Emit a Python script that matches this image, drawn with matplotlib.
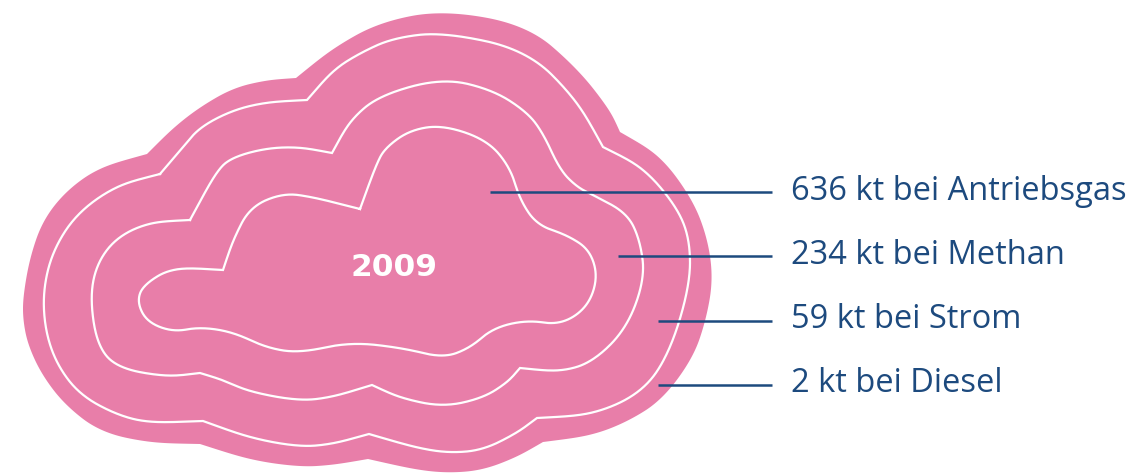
import matplotlib
matplotlib.use("Agg")
import matplotlib.pyplot as plt
import numpy as np

YEAR = "2009"
VALUES = [636, 234, 59, 2]
UNIT = "kt"
FUELS = ["Antriebsgas", "Methan", "Strom", "Diesel"]

PINK = "#E87EA9"
NAVY = "#1D4A7E"

# leader lines: start inside each ring, all end at the same x
LEADER_X0 = [490, 618, 658, 658]
LEADER_Y = [192, 256, 321, 385]
LEADER_X1 = 772
TEXT_X = 791

# cloud outlines in pixel coords, split at the sharp notches
OUTER = [
    [(147, 154), (173, 128), (200, 107), (233, 88), (267, 80), (296, 78)],
    [(296, 78), (333, 48), (380, 22), (443, 10), (527, 25), (577, 68), (610, 110), (620, 132)],
    [(620, 132), (660, 155), (693, 200), (708, 240), (713, 280), (706, 320), (693, 358),
     (662, 400), (627, 422), (590, 436), (543, 442)],
    [(543, 442), (517, 457), (483, 470), (450, 473), (417, 470), (368, 459)],
    [(368, 459), (333, 465), (300, 467), (250, 460), (200, 444)],
    [(200, 444), (150, 443), (100, 432), (65, 405), (42, 375), (28, 345), (23, 320),
     (23, 297), (30, 257), (43, 220), (67, 190), (100, 167), (147, 154)],
]
RING1 = [
    [(160, 174), (183, 147), (200, 127), (233, 110), (267, 102), (307, 100)],
    [(307, 100), (333, 70), (360, 53), (393, 38), (443, 32), (527, 50), (577, 100), (603, 147)],
    [(603, 147), (643, 167), (677, 207), (690, 240), (690, 285), (670, 352), (643, 392),
     (593, 415), (537, 418)],
    [(537, 418), (517, 433), (483, 450), (450, 453), (417, 448), (369, 434)],
    [(369, 434), (333, 444), (300, 447), (250, 438), (203, 421)],
    [(203, 421), (150, 423), (117, 415), (80, 395), (57, 365), (45, 330), (43, 290),
     (53, 250), (77, 213), (117, 185), (160, 174)],
]
RING2 = [
    [(190, 220), (217, 170), (233, 157), (267, 148), (300, 147), (332, 153)],
    [(332, 153), (350, 120), (380, 95), (443, 78), (493, 90), (527, 112), (543, 133),
     (560, 170), (577, 187), (593, 195), (627, 213), (640, 240), (645, 278), (627, 328),
     (593, 362), (560, 372), (520, 368)],
    [(520, 368), (508, 382), (483, 398), (443, 407), (400, 398), (372, 385)],
    [(372, 385), (333, 397), (300, 401), (250, 392), (223, 380), (200, 373)],
    [(200, 373), (167, 377), (117, 368), (97, 345), (90, 297), (97, 263), (117, 237),
     (150, 222), (190, 220)],
]
RING3 = [
    [(360, 209), (313, 197), (283, 193), (250, 207), (233, 240), (223, 270)],
    [(223, 270), (173, 267), (143, 285), (137, 302), (147, 322), (173, 332), (200, 327),
     (233, 332), (267, 348), (300, 353), (350, 342), (403, 348), (443, 358), (470, 348),
     (493, 328), (527, 320), (560, 325), (587, 308), (598, 278), (590, 250), (567, 235),
     (537, 225), (520, 200), (510, 167), (487, 140), (443, 125), (410, 130), (385, 148),
     (376, 165), (360, 209)],
]


def chaikin(pts, iters=5):
    """Corner-cutting smoothing of an open polyline, ends kept in place."""
    p = np.asarray(pts, dtype=float)
    for _ in range(iters):
        q = 0.75 * p[:-1] + 0.25 * p[1:]
        r = 0.25 * p[:-1] + 0.75 * p[1:]
        mid = np.empty((2 * len(q), 2))
        mid[0::2] = q
        mid[1::2] = r
        p = np.vstack([p[:1], mid[1:-1], p[-1:]])
    return p


def outline(segments):
    return np.vstack([chaikin(s) for s in segments])


fig = plt.figure(figsize=(11.31, 4.75), dpi=100)
ax = fig.add_axes([0, 0, 1, 1])
ax.set_xlim(0, 1131)
ax.set_ylim(475, 0)
ax.axis("off")

outer = outline(OUTER)
ax.fill(outer[:, 0], outer[:, 1], color=PINK, lw=0, zorder=1)
for ring in (RING1, RING2, RING3):
    xy = outline(ring)
    xy = np.vstack([xy, xy[:1]])
    ax.plot(xy[:, 0], xy[:, 1], color="white", lw=1.6, solid_joinstyle="miter", zorder=2)

ax.text(394, 268, YEAR, color="white", fontsize=22.5, fontweight="bold",
        family="DejaVu Sans", ha="center", va="center", zorder=3)

for x0, y, v, f in zip(LEADER_X0, LEADER_Y, VALUES, FUELS):
    ax.plot([x0, LEADER_X1], [y, y], color=NAVY, lw=1.8, solid_capstyle="butt", zorder=3)
    ax.text(TEXT_X, y - 1, f"{v} {UNIT} bei {f}", color=NAVY, fontsize=23.5,
            family="Open Sans", ha="left", va="center", zorder=3)

fig.savefig("out.png", dpi=100)
